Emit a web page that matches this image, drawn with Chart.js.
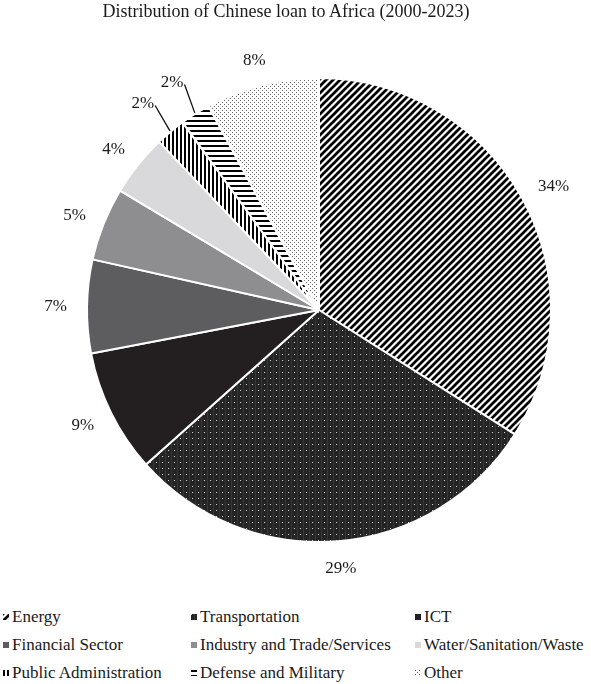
<!DOCTYPE html>
<html><head><meta charset="utf-8">
<script src="https://cdn.jsdelivr.net/npm/chart.js@4.4.1/dist/chart.umd.min.js"></script>
<style>
html,body{margin:0;padding:0;background:#fff;}
#wrap{position:relative;width:591px;height:684px;overflow:hidden;font-family:"Liberation Serif","Times New Roman",serif;color:#1a1a1a;}
#title{position:absolute;left:0;top:0;width:572px;text-align:center;font-size:18px;line-height:22px;white-space:nowrap;font-family:"Liberation Serif",serif;}
#chart{position:absolute;left:0;top:0;}
.lg{position:absolute;height:22px;line-height:22px;font-size:17px;white-space:nowrap;font-family:"Liberation Serif",serif;}
.lg canvas{position:absolute;left:0;top:8px;}
.lg span{position:absolute;left:9px;top:0;}
</style></head>
<body>
<div id="wrap">
  <canvas id="chart" width="591" height="600"></canvas>
  <div id="title">Distribution of Chinese loan to Africa (2000-2023)</div>
  <div id="legend"></div>
</div>
<script>
// ---- data ----
const categories = ['Energy','Transportation','ICT','Financial Sector','Industry and Trade/Services','Water/Sanitation/Waste','Public Administration','Defense and Military','Other'];
const shares = [34.0, 29.4, 8.6, 6.5, 5.1, 4.3, 2.1, 2.1, 7.9];
const pctLabels = shares.map(v => Math.round(v) + '%');

// ---- fills ----
function tile(w, h, draw){
  const c = document.createElement('canvas'); c.width = w; c.height = h;
  const g = c.getContext('2d'); draw(g, w, h); return c;
}
function makeFill(kind, ctx){
  let t;
  switch(kind){
    case 'energy':
      t = tile(7,7,(g)=>{g.fillStyle='#fff';g.fillRect(0,0,7,7);g.strokeStyle='#000';g.lineWidth=2.7;
        for(const k of [-7,0,7]){g.beginPath();g.moveTo(k-1,8);g.lineTo(k+8,-1);g.stroke();}});
      break;
    case 'transport':
      t = tile(6,6,(g)=>{g.fillStyle='#242424';g.fillRect(0,0,6,6);g.fillStyle='#383838';g.fillRect(3,0,1,6);
        g.fillStyle='#d8d8d8';g.fillRect(0,0,1,1);});
      break;
    case 'vert':
      t = tile(4,4,(g)=>{g.fillStyle='#fff';g.fillRect(0,0,4,4);g.fillStyle='#000';g.fillRect(0,0,2,4);});
      break;
    case 'horiz':
      t = tile(5,5,(g)=>{g.fillStyle='#fff';g.fillRect(0,0,5,5);g.fillStyle='#000';g.fillRect(0,0,5,2);});
      break;
    case 'dots':
      t = tile(4,4,(g)=>{g.fillStyle='#fff';g.fillRect(0,0,4,4);g.fillStyle='#666';g.fillRect(0,0,1,1);g.fillRect(2,2,1,1);});
      break;
    default: return kind;
  }
  return ctx.createPattern(t,'repeat');
}
const fillKinds = ['energy','transport','#231f20','#5d5d5f','#8e8e90','#d9d9db','vert','horiz','dots'];

const cv = document.getElementById('chart');
const ctx = cv.getContext('2d');
const fills = fillKinds.map(k => makeFill(k, ctx));

const GAP = 20;
const labelPlugin = {
  id: 'pctLabels',
  afterDatasetsDraw(chart){
    const c = chart.ctx; const meta = chart.getDatasetMeta(0);
    c.save();
    c.font = '17px "Liberation Serif", serif';
    c.fillStyle = '#1a1a1a'; c.textAlign = 'center'; c.textBaseline = 'middle';
    c.strokeStyle = '#111'; c.lineWidth = 1.3;
    meta.data.forEach((arc, i) => {
      const p = arc.getProps(['x','y','startAngle','endAngle','outerRadius'], true);
      const a = (p.startAngle + p.endAngle) / 2;
      const txt = pctLabels[i];
      const w = c.measureText(txt).width, h = 12;
      const small = shares[i] < 3;
      const d = p.outerRadius + GAP + (small ? 12 : 0);
      const cx = p.x + d*Math.cos(a) + (w/2)*Math.cos(a);
      const cy = p.y + d*Math.sin(a) + (h/2)*Math.sin(a);
      c.fillText(txt, cx, cy + 1);
      if (small){
        c.beginPath();
        c.moveTo(cx + w/2 + 1, cy + 3);
        c.lineTo(p.x + (p.outerRadius + 1)*Math.cos(a), p.y + (p.outerRadius + 1)*Math.sin(a));
        c.stroke();
      }
    });
    c.restore();
  }
};

new Chart(cv, {
  type: 'pie',
  data: {
    labels: categories,
    datasets: [{
      data: shares,
      backgroundColor: fills,
      borderColor: '#ffffff',
      borderWidth: 2,
      hoverOffset: 0
    }]
  },
  options: {
    responsive: false,
    devicePixelRatio: 1,
    animation: false,
    events: [],
    radius: 232,
    layout: { padding: { left: 87, right: 40, top: 78, bottom: 58 } },
    plugins: { legend: { display: false }, tooltip: { enabled: false }, title: { display: false } }
  },
  plugins: [labelPlugin]
});

// ---- legend (HTML) ----
const colX = [3, 191, 415];
const rowY = [617, 645, 673];
const lg = document.getElementById('legend');
categories.forEach((name, i) => {
  const d = document.createElement('div');
  d.className = 'lg';
  d.style.left = colX[i % 3] + 'px';
  d.style.top = (rowY[Math.floor(i / 3)] - 11) + 'px';
  const sw = document.createElement('canvas'); sw.width = 6; sw.height = 6;
  const sg = sw.getContext('2d');
  sg.fillStyle = makeFill(fillKinds[i], sg);
  sg.fillRect(0, 0, 6, 6);
  const sp = document.createElement('span'); sp.textContent = name;
  d.appendChild(sw); d.appendChild(sp); lg.appendChild(d);
});
</script>
</body></html>
